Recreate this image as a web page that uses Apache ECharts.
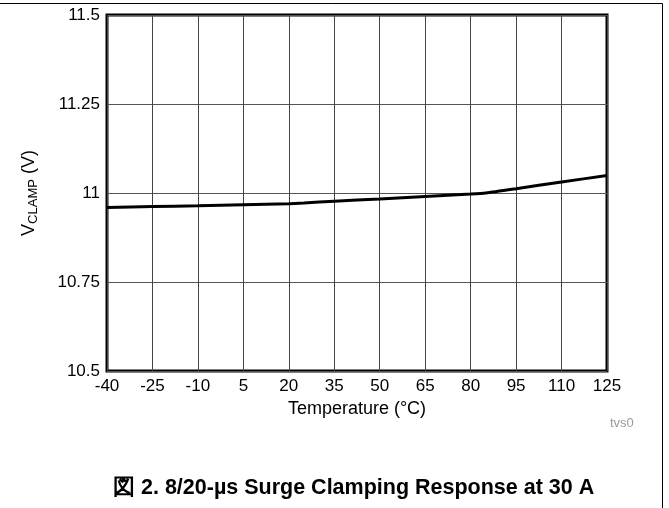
<!DOCTYPE html>
<html>
<head>
<meta charset="utf-8">
<script src="https://cdn.jsdelivr.net/npm/echarts@6/dist/echarts.min.js"></script>
<style>
  html, body { margin: 0; padding: 0; background: #fff; }
  #chart { width: 669px; height: 508px; }
</style>
</head>
<body>
<div id="chart"></div>
<script>
// temperature (°C) vs clamp voltage (V)
var temps = [-40, -25, -10, 5, 20, 25, 35, 50, 65, 80, 85, 95, 110, 125];
var vclamp = [10.959, 10.962, 10.964, 10.967, 10.970, 10.972, 10.977, 10.983, 10.990, 10.997, 11.0, 11.012, 11.031, 11.049];
var xTicks = [-40, -25, -10, 5, 20, 35, 50, 65, 80, 95, 110, 125];
var yTicks = [10.5, 10.75, 11, 11.25, 11.5];

var captionText = '図 2. 8/20-µs Surge Clamping Response at 30 A';
var fontFam = '"Liberation Sans", Arial, sans-serif';

var myChart = echarts.init(document.getElementById('chart'));

var points = temps.map(function (t, i) { return [t, vclamp[i]]; });

var option = {
    animation: false,
    backgroundColor: '#fff',
    textStyle: { fontFamily: fontFam },
    grid: {
        left: 107, right: 62, top: 15, bottom: 137,
        show: true,
        borderColor: '#000',
        borderWidth: 3
    },
    xAxis: {
        type: 'value',
        min: xTicks[0],
        max: xTicks[xTicks.length - 1],
        interval: 15,
        name: 'Temperature (°C)',
        nameLocation: 'middle',
        nameGap: 26,
        nameTextStyle: { color: '#000', fontSize: 18, fontFamily: fontFam },
        axisLine: { show: false },
        axisTick: { show: false },
        axisLabel: { color: '#000', fontSize: 17, margin: 7, fontFamily: fontFam },
        splitLine: { show: true, lineStyle: { color: '#444', width: 1 } }
    },
    yAxis: {
        type: 'value',
        min: yTicks[0],
        max: yTicks[yTicks.length - 1],
        interval: 0.25,
        name: '{v|V}{s|CLAMP}{v| (V)}',
        nameLocation: 'middle',
        nameGap: 67,
        nameRotate: 90,
        nameTextStyle: {
            color: '#000',
            rich: {
                v: { fontSize: 18, fontFamily: fontFam, color: '#000', lineHeight: 22 },
                s: { fontSize: 13, fontFamily: fontFam, color: '#000', lineHeight: 22, verticalAlign: 'bottom', padding: [6, 0, 0, 0] }
            }
        },
        axisLine: { show: false },
        axisTick: { show: false },
        axisLabel: { color: '#000', fontSize: 17, margin: 7, fontFamily: fontFam },
        splitLine: { show: true, lineStyle: { color: '#555', width: 1 } }
    },
    series: [{
        type: 'line',
        data: points,
        showSymbol: false,
        smooth: 0.2,
        lineStyle: { color: '#000', width: 3 },
        z: 5
    }],
    graphic: [
        { type: 'line', shape: { x1: 0, y1: 3.5, x2: 662.5, y2: 3.5 }, style: { stroke: '#000', lineWidth: 1 } },
        { type: 'line', shape: { x1: 662.5, y1: 3.5, x2: 662.5, y2: 508 }, style: { stroke: '#000', lineWidth: 1 } },
        { type: 'text', left: 610, top: 417, style: { text: 'tvs0', fill: '#999', fontSize: 13, fontFamily: fontFam } },
        { type: 'text', left: 113, top: 477, style: { text: captionText, fill: '#000', fontSize: 21.5, fontWeight: 'bold', fontFamily: fontFam } }
    ]
};

myChart.setOption(option);
</script>
</body>
</html>
